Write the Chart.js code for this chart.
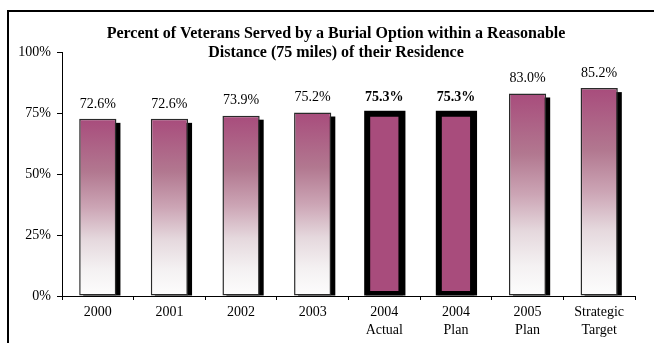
<!DOCTYPE html>
<html>
<head>
<meta charset="utf-8">
<script src="https://cdn.jsdelivr.net/npm/chart.js@4"></script>
<style>
  body { margin: 0; background: #fff; overflow: hidden; }
  #frame { position: absolute; left: 7px; top: 10px; width: 700px; height: 400px; border: 2px solid #000; }
  #wrap { position: absolute; left: 0; top: 0; width: 654px; height: 343px; }
</style>
</head>
<body>
<div id="frame"></div>
<div id="wrap"><canvas id="chart" width="654" height="343"></canvas></div>
<script>
const titleLines = [
    "Percent of Veterans Served by a Burial Option within a Reasonable",
    "Distance (75 miles) of their Residence"
];
const categories = [["2000"], ["2001"], ["2002"], ["2003"], ["2004", "Actual"], ["2004", "Plan"], ["2005", "Plan"], ["Strategic", "Target"]];
const values = [72.6, 72.6, 73.9, 75.2, 75.3, 75.3, 83.0, 85.2];
const highlighted = [false, false, false, false, true, true, false, false];
const yTicks = [0, 25, 50, 75, 100];

const FONT = '"Liberation Serif", "Times New Roman", serif';
const PINK = "#A84C7C";

function barFill(ctx) {
    const chart = ctx.chart;
    if (highlighted[ctx.dataIndex]) return PINK;
    const y = chart.scales.y;
    if (!chart.chartArea || !y) return PINK;
    const top = y.getPixelForValue(values[ctx.dataIndex]);
    const base = y.getPixelForValue(0);
    const g = chart.ctx.createLinearGradient(0, top, 0, base);
    g.addColorStop(0, "#A84C7C");
    g.addColorStop(0.3, "#B27890");
    g.addColorStop(0.5, "#CCA5B5");
    g.addColorStop(0.68, "#E5D8DD");
    g.addColorStop(0.85, "#F4F1F2");
    g.addColorStop(1, "#FDFDFD");
    return g;
}

// black drop shadow / heavy frame behind the bars
const shadowPlugin = {
    id: "shadow",
    beforeDatasetsDraw(chart) {
        const c = chart.ctx;
        c.save();
        c.fillStyle = "#000";
        chart.getDatasetMeta(0).data.forEach((bar, i) => {
            const left = bar.x - bar.width / 2;
            const h = bar.base - bar.y;
            if (highlighted[i]) {
                c.fillRect(left - 1.5, bar.y - 1.5, bar.width + 4, h + 1.5);
            } else {
                c.fillRect(left + 4, bar.y + 4, bar.width, h - 4);
            }
        });
        c.restore();
    }
};

const labelPlugin = {
    id: "labels",
    afterDatasetsDraw(chart) {
        const c = chart.ctx;
        c.save();
        c.fillStyle = "#000";
        c.textAlign = "center";
        c.textBaseline = "middle";
        chart.getDatasetMeta(0).data.forEach((bar, i) => {
            c.font = (highlighted[i] ? "bold " : "") + "14px " + FONT;
            c.fillText(values[i].toFixed(1) + "%", bar.x, bar.y - 15);
        });
        // title
        c.font = "bold 16px " + FONT;
        c.textBaseline = "alphabetic";
        titleLines.forEach((line, i) => c.fillText(line, 336, 38 + i * 19));
        c.restore();
    }
};

new Chart(document.getElementById("chart"), {
    type: "bar",
    data: {
        labels: categories,
        datasets: [{
            data: values,
            backgroundColor: barFill,
            borderColor: (ctx) => highlighted[ctx.dataIndex] ? "#000" : "#2a2a2a",
            borderWidth: (ctx) => highlighted[ctx.dataIndex] ? 4.5 : 1.5,
            borderSkipped: false,
            categoryPercentage: 1,
            barPercentage: 0.52
        }]
    },
    options: {
        responsive: false,
        animation: false,
        layout: { padding: { left: 0, right: 19, top: 52, bottom: 0 } },
        plugins: { legend: { display: false }, tooltip: { enabled: false } },
        scales: {
            x: {
                afterFit: (s) => { s.height = 47; },
                grid: { drawOnChartArea: false, tickLength: 4, color: "#000", lineWidth: 1 },
                border: { color: "#000", width: 1 },
                ticks: { color: "#000", padding: 3, font: { family: FONT, size: 14, lineHeight: 1.3 }, maxRotation: 0 }
            },
            y: {
                min: 0,
                max: 100,
                afterFit: (s) => { s.width = 62; },
                afterBuildTicks: (s) => { s.ticks = yTicks.map(v => ({ value: v })); },
                grid: { drawOnChartArea: false, tickLength: 5, color: "#000", lineWidth: 1 },
                border: { color: "#000", width: 1 },
                ticks: { color: "#000", padding: 6, font: { family: FONT, size: 14 }, callback: (v) => v + "%" }
            }
        }
    },
    plugins: [shadowPlugin, labelPlugin]
});
</script>
</body>
</html>
